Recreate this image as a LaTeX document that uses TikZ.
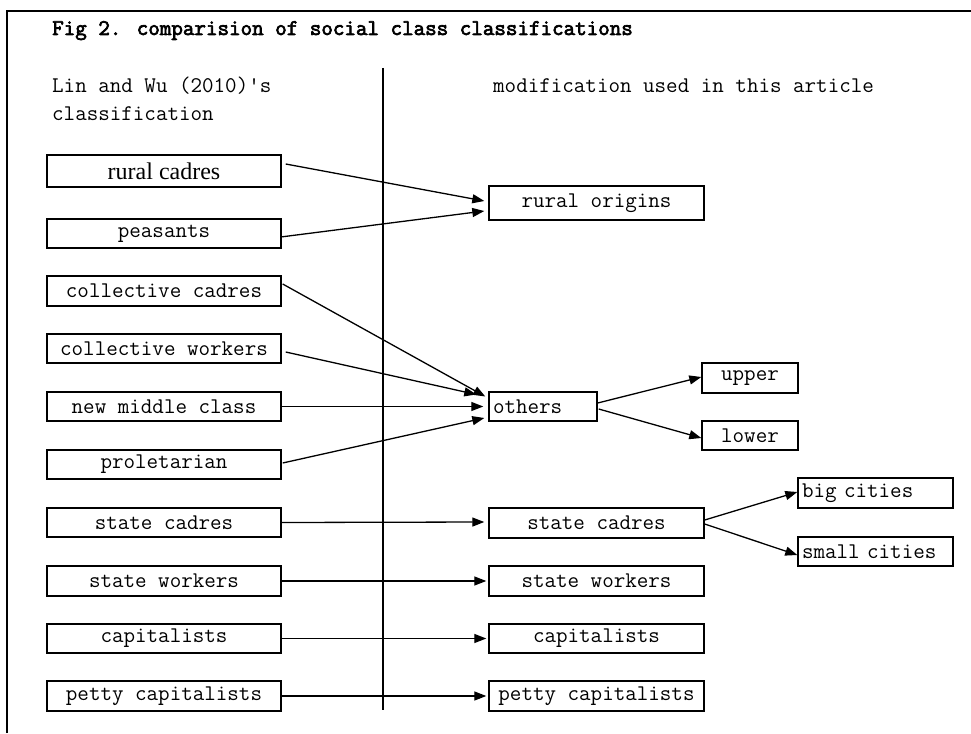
\documentclass[tikz,border=0pt]{standalone}
\usepackage{fontspec}
\newfontfamily\monofont{Latin Modern Mono}
\newfontfamily\titlefont{Latin Modern Mono}[FakeBold=3]
\newfontfamily\timesfont{Liberation Serif}
\usetikzlibrary{arrows.meta,calc}
\begin{document}
\begin{tikzpicture}[x=1pt,y=-1pt,
  txt/.style={font=\monofont\fontsize{22.4}{24}\selectfont},
  box/.style={draw, line width=1.4pt, inner sep=0pt, txt},
  lbox/.style={box, minimum width=234pt, minimum height=30pt},
  rbox/.style={box, minimum width=215pt, minimum height=30pt},
  sbox/.style={box, minimum width=96pt, minimum height=30pt},
  leftbox/.style={box, inner xsep=4pt, align=left, minimum height=30pt},
  conn/.style={line width=1.3pt, -{Triangle[length=12pt,width=9pt]}},
  plaintext/.style={anchor=base west, inner sep=0pt, txt}]
\useasboundingbox (0,0) rectangle (971,733);
% frame
\draw[line width=1.5pt] (7,733) -- (7,11) -- (971,11);
% divider
\coordinate (divtop) at (383,68);
\coordinate (divbot) at (383,710);
\draw[line width=1.3pt] (divtop) -- (divbot);
% headings
\node[plaintext, font=\titlefont\fontsize{22.4}{24}\selectfont] (title) at (52,35) {Fig 2. comparision of social class classifications};
\node[plaintext] (lh1) at (52,93) {Lin and Wu (2010)'s};
\node[plaintext] (lh2) at (52,121) {classification};
\node[plaintext] (rh1) at (493,93) {modification used in this article};
% left boxes
\node[lbox, minimum height=32pt, font=\timesfont\fontsize{24}{26}\selectfont] (l1) at (164,171) {rural cadres};
\node[lbox, minimum height=29pt] (l2) at (164,233.5) {peasants};
\node[lbox] (l3) at (164,291) {collective cadres};
\node[lbox, minimum height=29pt] (l4) at (164,348.5) {collective workers};
\node[lbox, minimum height=29pt] (l5) at (164,406.5) {new middle class};
\node[lbox, minimum height=29pt] (l6) at (164,464.5) {proletarian};
\node[lbox, minimum height=29pt] (l7) at (164,522.5) {state cadres};
\node[lbox] (l8) at (164,581) {state workers};
\node[lbox, minimum height=29pt] (l9) at (164,638.5) {capitalists};
\node[lbox] (l10) at (164,696) {petty capitalists};
% right boxes
\node[rbox, minimum height=34pt] (rural) at (596.5,203) {rural origins};
\node[leftbox, text width=100pt, minimum height=29pt] (others) at (543,406.5) {others};
\node[sbox] (upper) at (750,378) {upper};
\node[sbox, minimum height=29pt] (lower) at (750,435.5) {lower};
\node[rbox] (rsc) at (596.5,523) {state cadres};
\node[leftbox, text width=147pt] (big) at (875.5,493) {big cities};
\node[leftbox, text width=147pt, minimum height=29pt] (small) at (875.5,551.5) {small cities};
\node[rbox] (rsw) at (596.5,581) {state workers};
\node[rbox, minimum height=29pt] (rcap) at (596.5,638.5) {capitalists};
\node[rbox] (rpetty) at (596.5,696) {petty capitalists};
% connectors
\draw[conn] ($(l1.east)+(4,-7)$) -- ($(rural.west)+(-4,-2)$);
\draw[conn] ($(l2.east)+(-1,3.5)$) -- ($(rural.west)+(-4,8)$);
\draw[conn] ($(l3.east)+(1,-7)$) -- ($(others.west)+(-3,-10)$);
\draw[conn] ($(l4.east)+(4,3.5)$) -- ($(others.west)+(-12,-12)$);
\draw[conn] ($(l5.east)+(-1,0)$) -- ($(others.west)+(-5,0)$);
\draw[conn] ($(l6.east)+(1,-1.5)$) -- ($(others.west)+(-4,11.5)$);
\draw[conn] ($(others.east)+(0,-3.5)$) -- ($(upper.west)+(0,-1)$);
\draw[conn] ($(others.east)+(1,2.5)$) -- ($(lower.west)+(0,2.5)$);
\draw[conn] (l7.east) -- ($(rsc.west)+(-4,-1)$);
\draw[conn] ($(rsc.east)+(0,-3)$) -- ($(big.west)+(0,-1)$);
\draw[conn] ($(rsc.east)+(0,1)$) -- ($(small.west)+(0,3.5)$);
\draw[conn] (l8.east) -- ($(rsw.west)+(-2,0)$);
\draw[conn] (l9.east) -- ($(rcap.west)+(-2,0)$);
\draw[conn] (l10.east) -- ($(rpetty.west)+(-2,0)$);
\end{tikzpicture}
\end{document}
